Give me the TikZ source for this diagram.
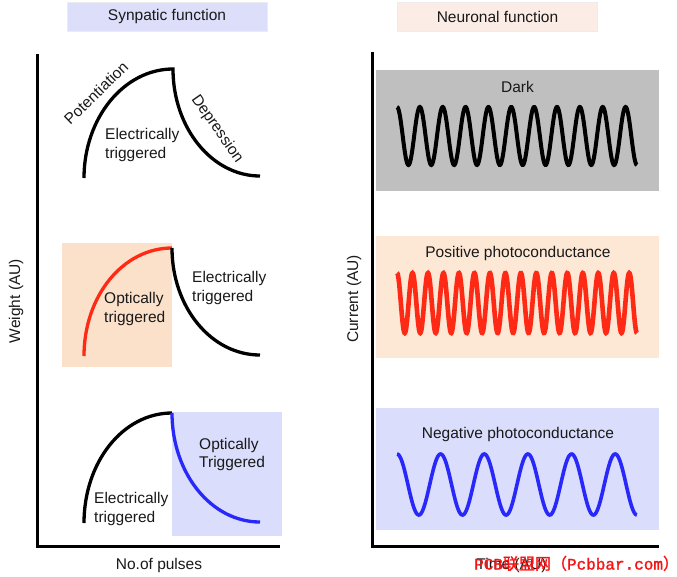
\documentclass[tikz,border=0pt]{standalone}
\usepackage{fontspec}
\setmainfont{Liberation Sans}
\newfontfamily\cjkfont[FakeBold=1.5]{Noto Sans CJK SC}
\newfontfamily\wmmono[FakeBold=1.5]{Liberation Mono}
\definecolor{titleblue}{RGB}{221,223,250}
\definecolor{titlepeach}{RGB}{252,236,230}
\definecolor{boxpeach}{RGB}{252,225,202}
\definecolor{boxpeachR}{RGB}{253,231,213}
\definecolor{boxblue}{RGB}{218,221,252}
\definecolor{boxgray}{RGB}{191,191,191}
\definecolor{curvered}{RGB}{255,42,22}
\definecolor{curveblue}{RGB}{40,40,250}
\definecolor{wmred}{RGB}{245,20,20}
\begin{document}
\begin{tikzpicture}[x=1pt,y=-1pt,
  txt/.style={font=\fontsize{15.5}{18.5}\selectfont, inner sep=0pt, text=black!90},
  lbl/.style={txt, align=left, anchor=west},
  axis/.style={line width=3pt},
  curve/.style={line width=3.3pt},
  wave/.style={line width=4pt},
  titlebox/.style={txt, minimum width=200pt, minimum height=29pt, draw=white!85!gray, line width=0.6pt}
]
\useasboundingbox (0,0) rectangle (677,576);

% title boxes
\node[titlebox, fill=titleblue] (tsyn) at (167,16.5) {Synpatic function};
\node[titlebox, fill=titlepeach] (tneu) at (497.5,16.5) {Neuronal function};

% ---------- left panel ----------
\fill[boxpeach] (62,243) rectangle (172,367);
\fill[boxblue] (172,412) rectangle (282,536);

\coordinate (ly) at (37,54);
\coordinate (lo) at (37,546);
\coordinate (lx) at (280,546);
\draw[axis] (ly) -- (lo) -- (lx);

% top curve
\coordinate (a0) at (84,178);
\coordinate (a1) at (173,69);
\coordinate (a2) at (260,176);
\draw[curve] (a0) .. controls (84,118) and (124,69) .. (a1)
  .. controls (173,128) and (212,176) .. (a2);

% middle curve
\coordinate (b0) at (84,356);
\coordinate (b1) at (172,248);
\coordinate (b2) at (260,355);
\draw[curve, curvered] (b0) .. controls (84,296) and (123,248) .. (b1);
\draw[curve] (b1) .. controls (172,307) and (211,355) .. (b2);

% bottom curve
\coordinate (c0) at (84,523);
\coordinate (c1) at (172,413);
\coordinate (c2) at (260,522);
\draw[curve] (c0) .. controls (84,462) and (123,413) .. (c1);
\draw[curve, curveblue] (c1) .. controls (172,473) and (211,522) .. (c2);

% left labels
\node[txt, rotate=44] (pot) at (96,93) {Potentiation};
\node[txt, rotate=-55] (dep) at (217,129) {Depression};
\node[lbl] (el1) at (105,145) {Electrically\\triggered};
\node[lbl] (op2) at (104,309) {Optically\\triggered};
\node[lbl] (el2) at (192,288) {Electrically\\triggered};
\node[lbl] (op3) at (199,454.5) {Optically\\Triggered};
\node[lbl] (el3) at (94,509) {Electrically\\triggered};
\node[txt, rotate=90] (wlab) at (16,301) {Weight (AU)};
\node[txt, anchor=base] (nlab) at (159,569) {No.of pulses};

% ---------- right panel ----------
\fill[boxgray] (376,70) rectangle (659,191);
\fill[boxpeachR] (376,236) rectangle (659,358);
\fill[boxblue] (376,408) rectangle (659,530);

\coordinate (ry) at (372,52);
\coordinate (ro) at (372,546);
\coordinate (rx) at (659,546);
\draw[axis] (ry) -- (ro) -- (rx);

\node[txt, anchor=base] (dark) at (517.5,92) {Dark};
\node[txt, anchor=base] (pos) at (518,257.5) {Positive photoconductance};
\node[txt, anchor=base] (neg) at (518,438) {Negative photoconductance};

\draw[wave, black] plot[domain=0:10.5, samples=420] ({397+\x*22.857},{136-29*cos(\x*360)});
\draw[wave, curvered, line width=4.6pt] plot[domain=0:15.5, samples=620] ({397+\x*15.484},{303-30*cos(\x*360)});
\draw[wave, curveblue, line width=3.6pt] plot[domain=0:5.5, samples=300] ({397+\x*43.636},{484.5-30.5*cos(\x*360)});

\node[txt, rotate=90] (clab) at (354,299) {Current (AU)};
\node[txt, anchor=base] (tlab) at (511.5,569) {Time (AU)};

% watermark
\node[inner sep=0pt, anchor=base west, text=wmred, font=\fontsize{16}{18}\selectfont] (wm) at (474,569.5)
  {\wmmono PCB\cjkfont 联盟网（\wmmono Pcbbar.com\cjkfont ）};
\end{tikzpicture}
\end{document}
